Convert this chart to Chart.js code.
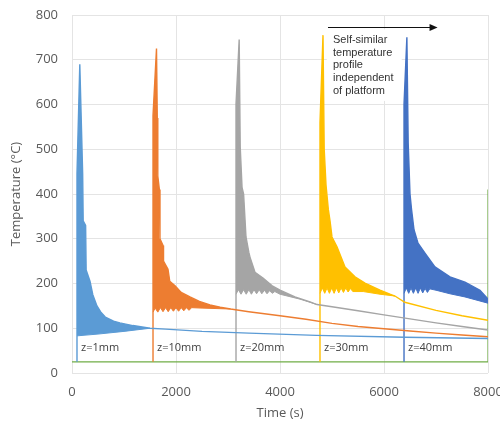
<!DOCTYPE html>
<html><head><meta charset="utf-8">
<script src="https://cdn.jsdelivr.net/npm/chart.js@4.4.1/dist/chart.umd.min.js"></script>
<style>html,body{margin:0;padding:0;background:#fff}canvas{display:block}</style>
</head><body>
<canvas id="c" width="500" height="423"></canvas>
<script>
// ---- data ----
const xTicks = [0, 2000, 4000, 6000, 8000];
const yTicks = [0, 100, 200, 300, 400, 500, 600, 700, 800];
const layerLabels = ['z=1mm', 'z=10mm', 'z=20mm', 'z=30mm', 'z=40mm'];
const layerStarts = [96, 1558, 3154, 4769, 6385];
const layerColors = ['#5b9bd5', '#ed7d31', '#a5a5a5', '#ffc000', '#4472c4'];
const noteLines = ['Self-similar', 'temperature', 'profile', 'independent', 'of platform'];

// [time (s), temperature (°C)]
const z1Upper = [[96,25],[96,445],[150,690],[205,445],[215,340],[262,330],[272,230],[346,205],[400,175],[480,150],[560,135],[640,125],[800,116],[920,112],[1170,106],[1500,100]];
const z1Lower = [[96,83],[500,87],[1000,93],[1500,100]];
const z1Tail  = [[1800,98],[2500,93],[3400,89],[4700,84],[6400,80],[8000,77]];

const z10Upper = [[1558,25],[1558,575],[1625,725],[1640,570],[1650,440],[1680,410],[1692,300],[1750,285],[1760,250],[1846,232],[1880,205],[1981,195],[2100,180],[2269,170],[2450,160],[2654,152],[2850,147],[3050,143]];
const z10Lower = [[1558,136],[1600,145],[1650,136],[1700,146],[1750,137],[1800,146],[1850,137],[1900,146],[1950,138],[2000,146],[2050,138],[2100,146],[2150,139],[2200,146],[2250,140],[2300,146],[2500,145],[3050,143]];
const z10Tail  = [[3400,137],[4000,128],[4500,120],[5000,111],[5500,104],[6000,99],[6500,94],[7000,89],[7500,85],[8000,81]];

const z20Upper = [[3154,25],[3154,600],[3215,745],[3235,505],[3270,415],[3300,400],[3346,304],[3400,270],[3423,259],[3519,225],[3673,212],[3850,195],[4000,185],[4288,170],[4577,159],[4711,153]];
const z20Lower = [[3154,176],[3200,186],[3250,176],[3300,186],[3350,176],[3400,186],[3450,176],[3500,186],[3550,177],[3600,186],[3650,177],[3700,185],[3750,177],[3800,184],[3850,178],[3900,182],[4000,176],[4385,165],[4711,153]];
const z20Tail  = [[5000,148],[5500,139],[6000,130],[6500,121],[7000,112],[7500,104],[8000,96]];

const z30Upper = [[4769,25],[4769,560],[4827,755],[4850,500],[4885,420],[4930,365],[4962,340],[5000,304],[5096,282],[5250,237],[5442,215],[5634,201],[5923,185],[6115,176],[6211,172]];
const z30Lower = [[4769,178],[4815,190],[4860,178],[4905,190],[4950,178],[4995,190],[5040,178],[5085,190],[5130,179],[5175,190],[5220,180],[5265,190],[5310,181],[5355,189],[5400,182],[5600,182],[5923,176],[6211,172]];
const z30Tail  = [[6400,158],[7000,140],[7500,128],[8000,118]];

const z40Upper = [[6385,25],[6385,600],[6440,750],[6465,514],[6500,400],[6530,365],[6577,320],[6654,290],[6788,268],[6980,237],[7269,215],[7557,203],[7846,185],[8000,165]];
const z40Lower = [[6385,178],[6430,190],[6475,178],[6520,190],[6565,178],[6610,190],[6655,178],[6700,190],[6745,179],[6790,189],[6835,180],[6880,188],[7000,185],[7269,177],[7557,170],[8000,156]];
const z40Tail  = [];

const platform = [[0,25],[8000,25],[8000,410]];

// ---- build ----
const pts = a => a.map(([x, y]) => ({x, y}));
const uppers = [z1Upper, z10Upper, z20Upper, z30Upper, z40Upper];
const lowers = [z1Lower, z10Lower, z20Lower, z30Lower, z40Lower];
const tails  = [z1Tail, z10Tail, z20Tail, z30Tail, z40Tail];

const datasets = [];
uppers.forEach((u, i) => {
  datasets.push({label: layerLabels[i] + ' max', data: pts(u.concat(tails[i])), borderColor: layerColors[i], borderWidth: 1.4, fill: false});
  datasets.push({label: layerLabels[i] + ' min', data: pts(lowers[i]), borderColor: layerColors[i], backgroundColor: layerColors[i], borderWidth: 1, fill: '-1'});
});
datasets.push({label: 'platform', data: pts(platform), borderColor: '#70ad47', borderWidth: 1.2, fill: false});

const notes = {
  id: 'notes',
  beforeDatasetsDraw(chart) {
    const {ctx, scales: {x, y}} = chart;
    ctx.save();
    ctx.fillStyle = '#ffffff';
    const l = x.getPixelForValue(4900), r = x.getPixelForValue(6340);
    const t = y.getPixelForValue(768), b = y.getPixelForValue(608);
    ctx.fillRect(l, t, r - l, b - t);
    ctx.restore();
  },
  afterDatasetsDraw(chart) {
    const {ctx, scales: {x, y}} = chart;
    ctx.save();
    ctx.fillStyle = '#333333';
    ctx.font = '11px "Liberation Sans", Arial, sans-serif';
    ctx.textBaseline = 'middle';
    ctx.textAlign = 'left';
    const tx = x.getPixelForValue(5019), ty = y.getPixelForValue(744);
    noteLines.forEach((s, i) => ctx.fillText(s, tx, ty + i * 12.7));
    const ax0 = x.getPixelForValue(4923), ax1 = x.getPixelForValue(7030), ay = Math.round(y.getPixelForValue(773)) + 0.5;
    ctx.strokeStyle = '#111'; ctx.lineWidth = 1;
    ctx.beginPath(); ctx.moveTo(ax0, ay); ctx.lineTo(ax1 - 6, ay); ctx.stroke();
    ctx.fillStyle = '#111';
    ctx.beginPath(); ctx.moveTo(ax1, ay); ctx.lineTo(ax1 - 8, ay - 3.5); ctx.lineTo(ax1 - 8, ay + 3.5); ctx.closePath(); ctx.fill();
    ctx.fillStyle = '#404040';
    ctx.font = '11px "Open Sans", sans-serif';
    const ly = y.getPixelForValue(56);
    layerLabels.forEach((s, i) => ctx.fillText(s, x.getPixelForValue(layerStarts[i]) + 4, ly));
    ctx.restore();
  }
};

new Chart(document.getElementById('c'), {
  type: 'line',
  data: {datasets},
  plugins: [notes],
  options: {
    responsive: false,
    animation: false,
    devicePixelRatio: 1,
    layout: {padding: {top: 15, right: 12, left: 0, bottom: 0}},
    elements: {point: {radius: 0, hoverRadius: 0}, line: {tension: 0}},
    plugins: {legend: {display: false}, tooltip: {enabled: false}},
    scales: {
      x: {
        type: 'linear', min: 0, max: 8000,
        afterBuildTicks: s => { s.ticks = xTicks.map(v => ({value: v})); },
        ticks: {color: '#595959', font: {family: 'Open Sans', size: 13}, padding: 11, maxRotation: 0, autoSkip: false, callback: v => String(v)},
        grid: {color: '#e4e4e4', drawTicks: false},
        border: {display: false},
        title: {display: true, text: 'Time (s)', color: '#595959', font: {family: 'Open Sans', size: 13}, padding: {top: 2, bottom: 2}},
        afterFit: s => { s.height = 50; s.paddingLeft = 0; s.paddingRight = 0; }
      },
      y: {
        type: 'linear', min: 0, max: 800,
        afterBuildTicks: s => { s.ticks = yTicks.map(v => ({value: v})); },
        ticks: {color: '#595959', font: {family: 'Open Sans', size: 13}, padding: 14, autoSkip: false, callback: v => String(v)},
        grid: {color: '#e4e4e4', drawTicks: false},
        border: {display: false},
        title: {display: true, text: 'Temperature (°C)', color: '#595959', font: {family: 'Open Sans', size: 13}, padding: {top: 8, bottom: 8}},
        afterFit: s => { s.width = 72; s.paddingTop = 0; s.paddingBottom = 0; }
      }
    }
  }
});
</script>
</body></html>
